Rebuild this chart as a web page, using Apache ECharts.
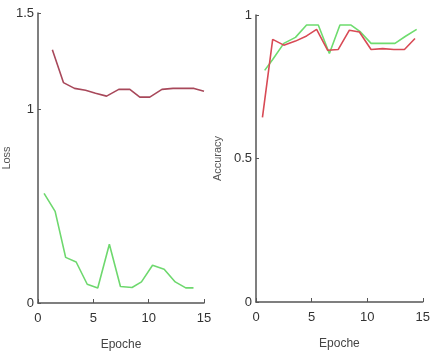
<!DOCTYPE html>
<html>
<head>
<meta charset="utf-8">
<script src="https://cdn.jsdelivr.net/npm/echarts@6/dist/echarts.min.js"></script>
<style>
	html,body{margin:0;padding:0;background:#fff;}
	#lineChart{width:433px;height:356px;}
</style>
</head>
<body>
<div id="lineChart"></div>
<script>
	//X轴刻度
	var epochTicks = [0, 5, 10, 15];
	var lossTicks = [0, 1, 1.5];
	var accTicks = [0, 0.5, 1];

	//Loss 数据 (红 / 绿)
	var lossRedX = [1.3, 2.3, 3.3, 4.3, 5.2, 6.2, 7.3, 8.3, 9.2, 10.1, 11.2, 12.2, 13.2, 14.1, 15];
	var lossRedY = [1.31, 1.14, 1.11, 1.10, 1.085, 1.07, 1.105, 1.105, 1.065, 1.065, 1.105, 1.11, 1.11, 1.11, 1.095];
	var lossGreenX = [0.55, 1.55, 2.5, 3.45, 4.45, 5.4, 6.45, 7.45, 8.5, 9.35, 10.35, 11.4, 12.4, 13.35, 14.05];
	var lossGreenY = [0.567, 0.474, 0.236, 0.212, 0.097, 0.078, 0.304, 0.085, 0.080, 0.109, 0.195, 0.175, 0.109, 0.078, 0.078];

	//Accuracy 数据 (红 / 绿)
	var accRedX = [0.58, 1.5, 2.5, 3.55, 4.55, 5.45, 6.45, 7.4, 8.4, 9.3, 10.35, 11.4, 12.4, 13.35, 14.3];
	var accRedY = [0.643, 0.915, 0.895, 0.909, 0.927, 0.95, 0.877, 0.88, 0.947, 0.941, 0.88, 0.883, 0.88, 0.88, 0.918];
	var accGreenX = [0.78, 1.5, 2.5, 3.55, 4.55, 5.6, 6.6, 7.55, 8.55, 9.4, 10.35, 11.4, 12.5, 13.45, 14.45];
	var accGreenY = [0.807, 0.845, 0.901, 0.922, 0.965, 0.965, 0.866, 0.965, 0.965, 0.941, 0.901, 0.901, 0.901, 0.926, 0.95];

	function pairs(xs, ys){
		var out = [];
		for(var i=0;i<xs.length;i++){
			out.push([xs[i], ys[i]]);
		}
		return out;
	}

	var labelFont = {
		color:'#333',
		fontSize:13,
		fontFamily:'Liberation Sans Narrow, Liberation Sans, Arial, sans-serif'
	};
	var axisColor = '#555';

	function xAxisFor(idx){
		return {
			type:'value',
			gridIndex:idx,
			min:0,
			max:15,
			interval:5,
			name:'Epoche',
			nameLocation:'middle',
			nameGap:36,
			nameTextStyle:{color:'#444', fontSize:12, fontFamily:labelFont.fontFamily},
			splitLine:{show:false},
			axisLine:{show:true, lineStyle:{color:axisColor, width:1.5}},
			axisTick:{show:true, inside:true, length:4, lineStyle:{color:axisColor}, customValues:epochTicks},
			axisLabel:Object.assign({margin:9, customValues:epochTicks}, labelFont)
		};
	}

	function yAxisFor(idx, name, max, ticks, gap){
		return {
			type:'value',
			gridIndex:idx,
			min:0,
			max:max,
			interval:0.5,
			name:name,
			nameLocation:'middle',
			nameGap:gap,
			nameTextStyle:{color:'#555', fontSize:11, fontFamily:'Liberation Sans, Arial, sans-serif'},
			splitLine:{show:false},
			axisLine:{show:true, lineStyle:{color:axisColor, width:1.5}},
			axisTick:{show:true, inside:true, length:3, lineStyle:{color:axisColor}, customValues:ticks},
			axisLabel:Object.assign({margin:4, customValues:ticks}, labelFont)
		};
	}

	var chartOption = {
		backgroundColor:'#fff',
		animation:false,
		grid:[
			{left:32, top:13, width:172, height:290},
			{left:256, top:15, width:172, height:287}
		],
		xAxis:[xAxisFor(0), xAxisFor(1)],
		yAxis:[
			yAxisFor(0, 'Loss', 1.5, lossTicks, 22),
			yAxisFor(1, 'Accuracy', 1, accTicks, 33)
		],
		series:[
			{
				name:'loss-red',
				type:'line',
				xAxisIndex:0, yAxisIndex:0,
				symbol:'none',
				data:pairs(lossRedX, lossRedY),
				lineStyle:{width:1.6, color:'#a8485a'}
			},
			{
				name:'loss-green',
				type:'line',
				xAxisIndex:0, yAxisIndex:0,
				symbol:'none',
				data:pairs(lossGreenX, lossGreenY),
				lineStyle:{width:1.6, color:'#6ed86e'}
			},
			{
				name:'acc-green',
				type:'line',
				xAxisIndex:1, yAxisIndex:1,
				symbol:'none',
				data:pairs(accGreenX, accGreenY),
				lineStyle:{width:1.6, color:'#6edc6e'}
			},
			{
				name:'acc-red',
				type:'line',
				xAxisIndex:1, yAxisIndex:1,
				symbol:'none',
				data:pairs(accRedX, accRedY),
				lineStyle:{width:1.6, color:'#d84a55'}
			}
		]
	};

	var lineChart = echarts.init(document.getElementById('lineChart'));
	lineChart.setOption(chartOption);
</script>
</body>
</html>
